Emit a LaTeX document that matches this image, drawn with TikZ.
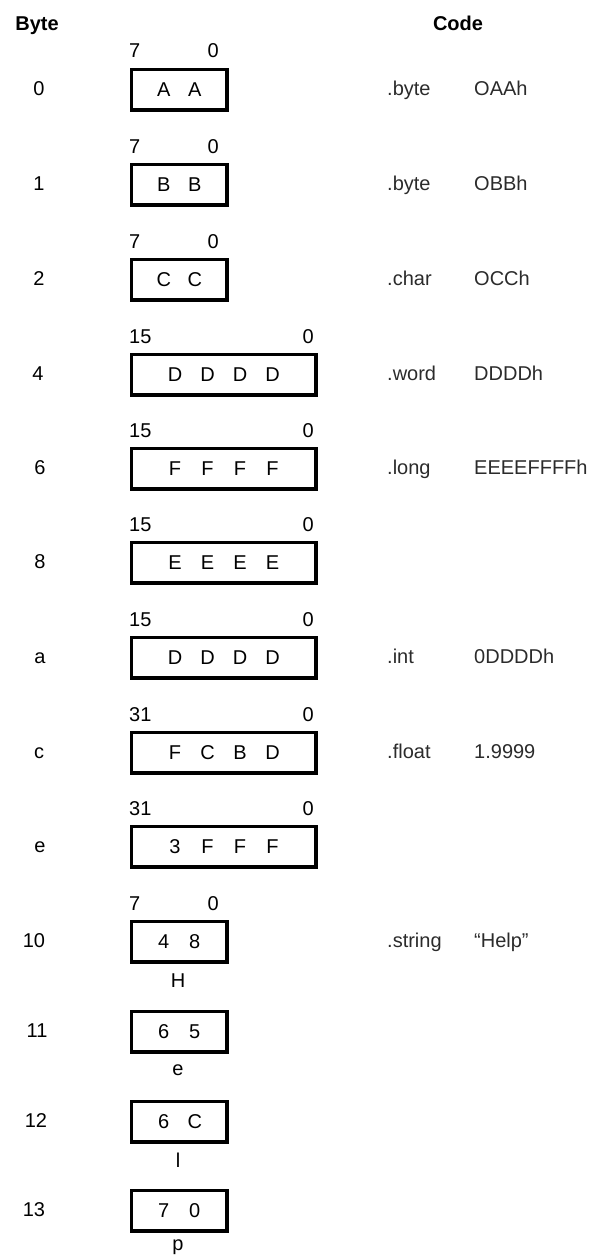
\documentclass[tikz,border=0pt]{standalone}
\usepackage{fontspec}
\setmainfont{Liberation Sans}
\definecolor{codegray}{HTML}{2B2B2B}
\newcommand\mc[1]{\makebox[31pt]{#1}}
\newcommand\wc[1]{\makebox[32.5pt]{#1}}
\tikzset{
  txt/.style={font=\fontsize{20}{24}\selectfont, inner sep=0pt},
  membox/.style={txt, draw, line width=3.5pt, minimum height=40.5pt, anchor=north west},
  smallbox/.style={membox, minimum width=95.5pt},
  widebox/.style={membox, minimum width=184.5pt},
  rowlbl/.style={txt, anchor=base},
  bitl/.style={txt, anchor=base west},
  bitr/.style={txt, anchor=base east},
  codel/.style={txt, anchor=base west, text=codegray},
  hdr/.style={txt, anchor=base, font=\fontsize{20}{24}\selectfont\bfseries},
}
\begin{document}
\begin{tikzpicture}[x=1pt,y=-1pt]
\useasboundingbox (0,0) rectangle (599,1255);
\node[hdr] (hbyte) at (37,31) {Byte};
\node[hdr] (hcode) at (458,31) {Code};
% rows: name / row label / label x / top / style / content
\foreach \id/\lab/\lx/\top/\sty/\cont in {
  r0/0/39/66/smallbox/{\mc{A}\mc{A}},
  r1/1/39/161/smallbox/{\mc{B}\mc{B}},
  r2/2/39/256/smallbox/{\mc{C}\mc{C}},
  r4/4/38/351/widebox/{\wc{D}\wc{D}\wc{D}\wc{D}},
  r6/6/40/445/widebox/{\wc{F}\wc{F}\wc{F}\wc{F}},
  r8/8/40/539/widebox/{\wc{E}\wc{E}\wc{E}\wc{E}},
  ra/a/40/634/widebox/{\wc{D}\wc{D}\wc{D}\wc{D}},
  rc/c/39/729/widebox/{\wc{F}\wc{C}\wc{B}\wc{D}},
  re/e/40/823/widebox/{\wc{3}\wc{F}\wc{F}\wc{F}},
  r10/10/34/918/smallbox/{\mc{4}\mc{8}},
  r11/11/37/1008/smallbox/{\mc{6}\mc{5}},
  r12/12/36/1098/smallbox/{\mc{6}\mc{C}},
  r13/13/34/1187/smallbox/{\mc{7}\mc{0}}}
{
  \node[\sty] (\id box) at (129.75,\top+1.75) {\cont};
  \node[rowlbl] (\id lab) at (\lx,\top+29) {\lab};
}
% bit-range labels
\foreach \id/\top/\hi/\rx in {
  r0/66/7/219, r1/161/7/219, r2/256/7/219,
  r4/351/15/314, r6/445/15/314, r8/539/15/314,
  ra/634/15/314, rc/729/31/314, re/823/31/314, r10/918/7/219}
{
  \node[bitl] (\id hi) at (129,\top-8) {\hi};
  \node[bitr] (\id lo) at (\rx,\top-8) {0};
}
% code column
\foreach \id/\top/\dir/\val in {
  r0/66/.byte/OAAh, r1/161/.byte/OBBh, r2/256/.char/OCCh,
  r4/351/.word/DDDDh, r6/445/.long/EEEEFFFFh, ra/634/.int/0DDDDh,
  rc/729/.float/1.9999, r10/918/.string/{“Help”}}
{
  \node[codel] (\id dir) at (387,\top+29) {\dir};
  \node[codel] (\id val) at (474,\top+29) {\val};
}
% characters under the string bytes
\foreach \id/\top/\ch/\dy in {r10/918/H/69, r11/1008/e/67, r12/1098/l/69, r13/1187/p/63}
{
  \node[rowlbl] (\id ch) at (178,\top+\dy) {\ch};
}
\end{tikzpicture}
\end{document}
